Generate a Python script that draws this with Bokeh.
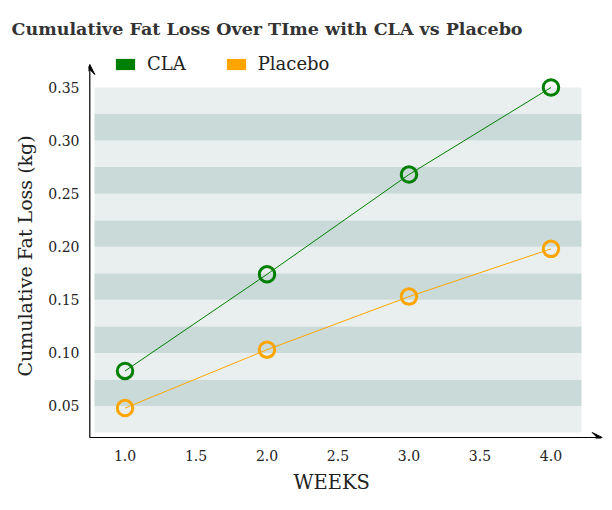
import numpy as np
from bokeh.plotting import figure
from bokeh.models import (Range1d, FixedTicker, NumeralTickFormatter, Legend, LegendItem,
                          Arrow, VeeHead, Title)
from bokeh.embed import file_html
from bokeh.resources import INLINE

# ---- data ----
weeks = [1, 2, 3, 4]
cla = [0.083, 0.174, 0.268, 0.350]
placebo = [0.048, 0.103, 0.153, 0.198]
x_ticks = [1.0, 1.5, 2.0, 2.5, 3.0, 3.5, 4.0]
y_ticks = [0.05, 0.10, 0.15, 0.20, 0.25, 0.30, 0.35]
series_names = ["CLA", "Placebo"]
series_colors = ["green", "orange"]
title_text = "Cumulative Fat Loss Over TIme with CLA vs Placebo"
x_label = "WEEKS"
y_label = "Cumulative Fat Loss (kg)"

# ---- layout constants ----
BX0, BX1 = 0.785, 4.215      # shaded data area, x
BY0, BY1 = 0.025, 0.35       # shaded data area, y
BAND = 0.025
BW, BH = 487, 345            # shaded area size in px
ML, MR, MT, MB = 6, 22, 37, 6  # extra frame around shaded area (px)
FW, FH = BW + ML + MR, BH + MT + MB
SX = (BX1 - BX0) / BW
SY = (BY1 - BY0) / BH
FONT = "DejaVu Serif"
TXT = "#222222"

p = figure(frame_width=FW, frame_height=FH,
           x_range=Range1d(BX0 - ML * SX, BX1 + MR * SX),
           y_range=Range1d(BY0 - MB * SY, BY1 + MT * SY),
           output_backend="svg", toolbar_location=None,
           min_border_left=88, min_border_right=7, min_border_bottom=70, min_border_top=50)

p.background_fill_color = "white"
p.border_fill_color = "white"
p.outline_line_color = None
p.grid.visible = False

# title
p.title.text = title_text
p.title.align = "left"
p.title.offset = -77
p.title.text_font = FONT
p.title.text_font_size = "17.5px"
p.title.text_font_style = "bold"
p.title.text_color = "#333333"
p.title.standoff = 24

# background bands
edges = np.arange(BY0, BY1 - 1e-9, BAND)
band_colors = ["#e9efee" if i % 2 == 0 else "#c9dad9" for i in range(len(edges))]
p.quad(left=BX0, right=BX1, bottom=list(edges), top=list(edges + BAND),
       fill_color=band_colors, line_color=None)

# spines with arrows (offset from the shaded area)
xs = BX0 - 4.7 * SX
yb = BY0 - 5.0 * SY
for xe, ye in [(xs, BY1 + 23 * SY), (BX1 + 20.7 * SX, yb)]:
    p.add_layout(Arrow(end=VeeHead(size=10, fill_color="black", fill_alpha=1,
                                   line_color="black", line_width=1),
                       x_start=xs, y_start=yb, x_end=xe, y_end=ye,
                       line_color="black", line_width=1.2))

# series
key_renderers = []
for vals, name, col in zip([cla, placebo], series_names, series_colors):
    p.line(weeks, vals, line_color=col, line_width=1)
    p.scatter(weeks, vals, marker="circle", size=15.5, fill_alpha=0,
              line_color=col, line_width=3)
    # zero-size quad, only used to draw the filled legend key
    key_renderers.append(p.quad(left=weeks[:1], right=weeks[:1], top=vals[:1], bottom=vals[:1],
                                fill_color=col, line_color=None))

legend = Legend(items=[LegendItem(label=n, renderers=[r]) for n, r in zip(series_names, key_renderers)],
                orientation="horizontal", location=(25, 364),
                glyph_width=24, glyph_height=14, label_standoff=10, spacing=38,
                padding=0, margin=0, border_line_alpha=0, background_fill_alpha=0,
                label_text_font=FONT, label_text_font_size="18px", label_text_color=TXT)
p.add_layout(legend, "center")

# axes
for ax in (p.xaxis[0], p.yaxis[0]):
    ax.axis_line_color = None
    ax.major_tick_line_color = None
    ax.minor_tick_line_color = None
    ax.major_tick_out = 0
    ax.major_tick_in = 0
    ax.major_label_text_font = FONT
    ax.major_label_text_font_size = "14px"
    ax.major_label_text_color = TXT

p.xaxis.ticker = FixedTicker(ticks=x_ticks)
p.xaxis.formatter = NumeralTickFormatter(format="0.0")
p.xaxis.major_label_standoff = 11

p.yaxis.ticker = FixedTicker(ticks=y_ticks)
p.yaxis.formatter = NumeralTickFormatter(format="0.00")
p.yaxis.major_label_standoff = 9

# axis titles (placed in side panels so they centre on the shaded area)
p.add_layout(Title(text=x_label, align="left", offset=205, vertical_align="top", standoff=14,
                   text_font=FONT, text_font_size="19.5px", text_font_style="normal",
                   text_color=TXT), "below")
p.add_layout(Title(text=y_label, align="left", offset=62, standoff=20,
                   text_font=FONT, text_font_size="19px", text_font_style="normal",
                   text_color=TXT), "left")

open("out.html", "w").write(file_html(p, INLINE))
